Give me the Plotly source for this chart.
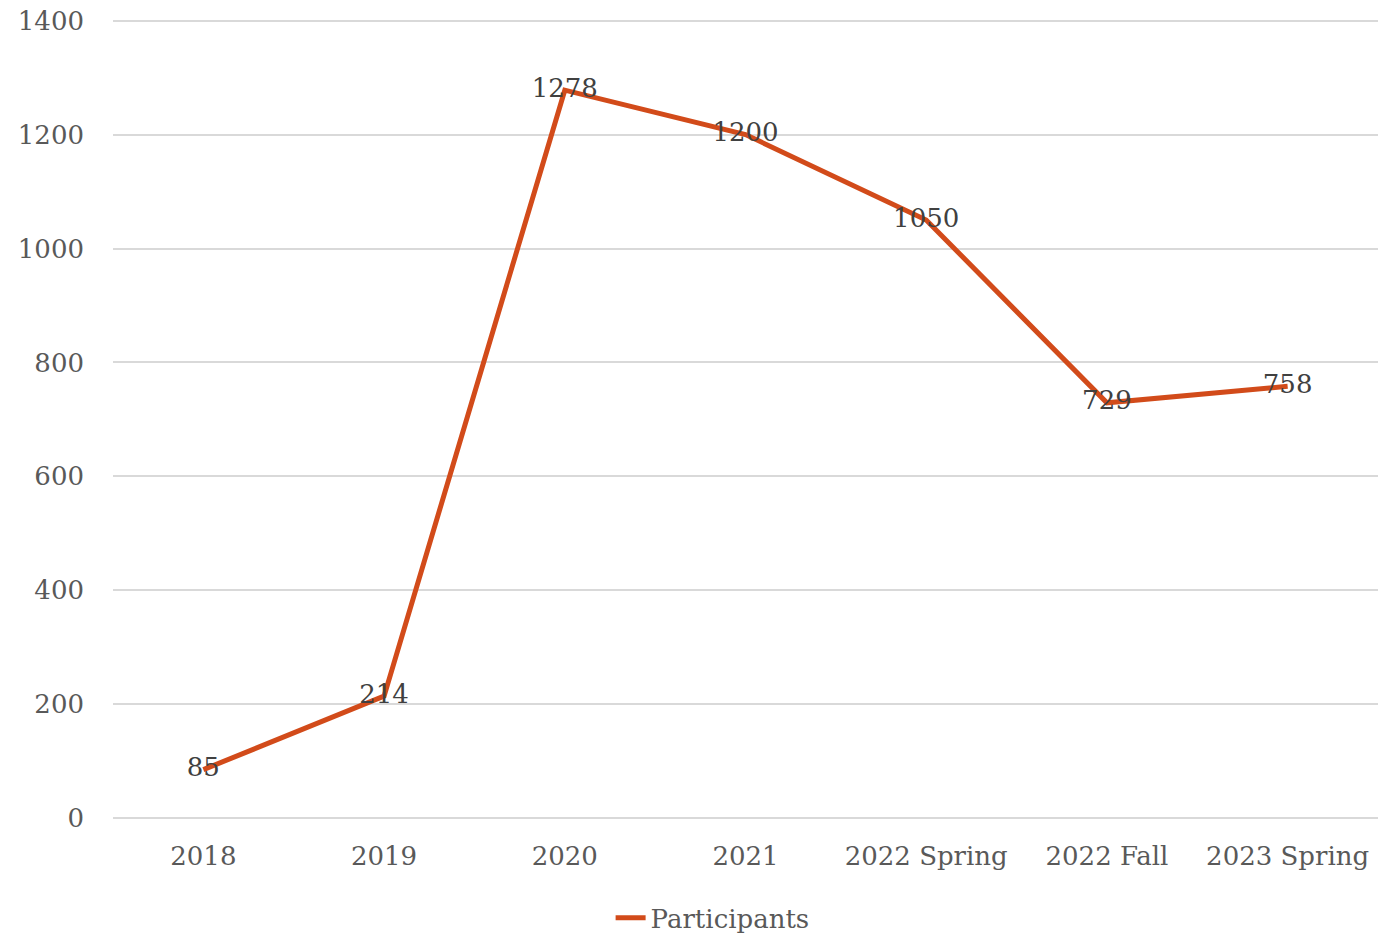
import plotly.graph_objects as go

categories = ["2018", "2019", "2020", "2021", "2022 Spring", "2022 Fall", "2023 Spring"]
participants = [85, 214, 1278, 1200, 1050, 729, 758]
y_ticks = [0, 200, 400, 600, 800, 1000, 1200, 1400]

FONT = "DejaVu Serif"

fig = go.Figure()
fig.add_trace(go.Scatter(
    x=categories, y=participants, name="Participants",
    mode="lines+text", text=[str(v) for v in participants],
    textposition="middle center",
    textfont=dict(family=FONT, size=26, color="#404040"),
    line=dict(color="#D24B1A", width=5),
))

fig.update_layout(
    width=1379, height=936,
    margin=dict(l=113, r=1, t=19, b=118, autoexpand=False),
    paper_bgcolor="white", plot_bgcolor="white",
    font=dict(family=FONT, color="#595959", size=26),
    showlegend=True,
    legend=dict(orientation="h", x=0.474, xanchor="center", y=-0.125, yanchor="middle",
                font=dict(family=FONT, size=26, color="#595959")),
)
fig.update_xaxes(type="category", range=[-0.5, len(categories) - 0.5],
                 showgrid=False, showline=False, zeroline=False,
                 automargin=False,
                 ticks="", tickfont=dict(family=FONT, size=26, color="#595959"),
                 ticklabelstandoff=20)
fig.update_yaxes(range=[0, 1403], tickvals=y_ticks, showgrid=True, gridcolor="#D9D9D9",
                 gridwidth=1.5, zeroline=True, zerolinecolor="#D9D9D9", zerolinewidth=1.5,
                 automargin=False,
                 showline=False, ticks="", tickfont=dict(family=FONT, size=26, color="#595959"),
                 ticklabelstandoff=28)

fig.write_html("out.html", config={"displayModeBar": False},
               post_script="document.body.style.margin='0';document.body.style.overflow='hidden';")
